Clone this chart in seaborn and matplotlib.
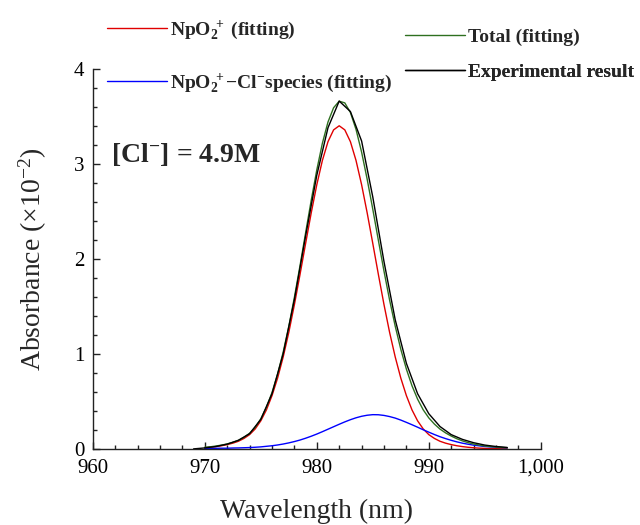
import numpy as np
import pandas as pd
import seaborn as sns
import matplotlib.pyplot as plt
from matplotlib.ticker import MultipleLocator, StrMethodFormatter

# fitted curves, 0.5 nm grid from 970 to 997 nm
wl_fit = np.arange(970, 997.5, 0.5)

npo2_fit = [0.012, 0.017, 0.024, 0.033, 0.045, 0.060, 0.080, 0.110, 0.150, 0.210,
            0.295, 0.410, 0.560, 0.745, 0.968, 1.226, 1.518, 1.834, 2.161, 2.482,
            2.780, 3.036, 3.233, 3.357, 3.400, 3.357, 3.233, 3.036, 2.780, 2.482,
            2.161, 1.834, 1.518, 1.226, 0.968, 0.745, 0.560, 0.410, 0.295, 0.210,
            0.150, 0.110, 0.080, 0.060, 0.045, 0.033, 0.024, 0.017, 0.012, 0.008,
            0.005, 0.003, 0.002, 0.001, 0.001]

npo2cl_fit = [0.005, 0.005, 0.006, 0.007, 0.007, 0.009, 0.010, 0.012, 0.014, 0.017,
              0.021, 0.027, 0.033, 0.041, 0.051, 0.063, 0.077, 0.093, 0.112, 0.133,
              0.156, 0.181, 0.207, 0.233, 0.259, 0.284, 0.307, 0.327, 0.343, 0.354,
              0.360, 0.359, 0.352, 0.340, 0.324, 0.303, 0.279, 0.254, 0.228, 0.201,
              0.176, 0.151, 0.128, 0.108, 0.090, 0.074, 0.060, 0.049, 0.039, 0.032,
              0.025, 0.021, 0.017, 0.014, 0.011]

total_fit = [0.017, 0.022, 0.030, 0.040, 0.052, 0.069, 0.090, 0.122, 0.164, 0.227,
             0.316, 0.437, 0.593, 0.786, 1.019, 1.289, 1.595, 1.927, 2.273, 2.615,
             2.936, 3.217, 3.440, 3.590, 3.659, 3.641, 3.540, 3.363, 3.123, 2.836,
             2.521, 2.193, 1.870, 1.566, 1.292, 1.048, 0.839, 0.664, 0.523, 0.411,
             0.326, 0.261, 0.208, 0.168, 0.135, 0.107, 0.084, 0.066, 0.051, 0.040,
             0.030, 0.024, 0.019, 0.015, 0.012]

# measured spectrum, 1 nm steps
wl_exp = np.arange(969, 998, 1)
absorb_exp = [0.000, 0.010, 0.025, 0.050, 0.090, 0.160, 0.310, 0.580, 1.000, 1.570,
              2.240, 2.880, 3.380, 3.660, 3.550, 3.240, 2.650, 1.970, 1.360, 0.900,
              0.580, 0.370, 0.235, 0.150, 0.100, 0.065, 0.040, 0.025, 0.015]

series = [
    ('npo2', wl_fit, npo2_fit, '#e00000', r'$\mathbf{NpO_2^{\ +}}$ (fitting)'),
    ('npo2cl', wl_fit, npo2cl_fit, '#0000ff', r'$\mathbf{NpO_2^{\ +}{-}Cl^{-}}$species (fitting)'),
    ('total', wl_fit, total_fit, '#2e7020', 'Total (fitting)'),
    ('exp', wl_exp, absorb_exp, 'black', 'Experimental result'),
]

# legend entry anchor (left end of handle, handle centre) in figure pixels
legend_pos = {'npo2': (107, 30), 'npo2cl': (107, 83), 'total': (405, 37), 'exp': (405, 72)}

sns.set_style('ticks')
plt.rcParams['font.family'] = ['Liberation Serif', 'DejaVu Serif']
plt.rcParams['mathtext.fontset'] = 'custom'
plt.rcParams['mathtext.rm'] = 'Liberation Serif'
plt.rcParams['mathtext.it'] = 'Liberation Serif:italic'
plt.rcParams['mathtext.bf'] = 'Liberation Serif:bold'

fig = plt.figure(figsize=(6.4, 5.25), dpi=100)
ax = fig.add_axes([0.145, 0.145, 0.70, 0.724])

for key, x, y, c, lab in series:
    sns.lineplot(x=x, y=y, color=c, lw=1.0, ax=ax, label=lab)

handles, labels = ax.get_legend_handles_labels()
for (key, *_), h, l in zip(series, handles, labels):
    px, py = legend_pos[key]
    leg = ax.legend([h], [l], loc='center left', frameon=False,
                    bbox_to_anchor=(px / 640, 1 - py / 525), bbox_transform=fig.transFigure,
                    prop={'weight': 'bold', 'size': 14}, handlelength=3.1,
                    handletextpad=0.15, borderpad=0, borderaxespad=0)
    ax.add_artist(leg)

ax.text(961.6, 3.1, r'[Cl$^{\mathbf{-}}$] = 4.9M', fontsize=20, fontweight='bold',
        va='center', ha='left')

ax.set_xlim(960, 1000)
ax.set_ylim(0, 4)
ax.xaxis.set_major_locator(MultipleLocator(10))
ax.xaxis.set_minor_locator(MultipleLocator(2))
ax.yaxis.set_major_locator(MultipleLocator(1))
ax.yaxis.set_minor_locator(MultipleLocator(0.2))
ax.xaxis.set_major_formatter(StrMethodFormatter('{x:,.0f}'))
ax.tick_params(which='both', direction='in', width=1, colors='#222222',
               labelsize=15, labelcolor='black')
ax.tick_params(which='major', length=5)
ax.tick_params(which='minor', length=3)
ax.tick_params(axis='x', which='major', pad=7)
ax.tick_params(axis='y', which='major', pad=6)
for s in ['left', 'bottom']:
    ax.spines[s].set_color('#222222')
    ax.spines[s].set_linewidth(1)
sns.despine(ax=ax)

ax.set_xlabel('Wavelength (nm)', fontsize=20, labelpad=15)
ax.set_ylabel(r'Absorbance ($\times$10$^{-2}$)', fontsize=20, labelpad=18)

fig.savefig('out.png', dpi=100)
